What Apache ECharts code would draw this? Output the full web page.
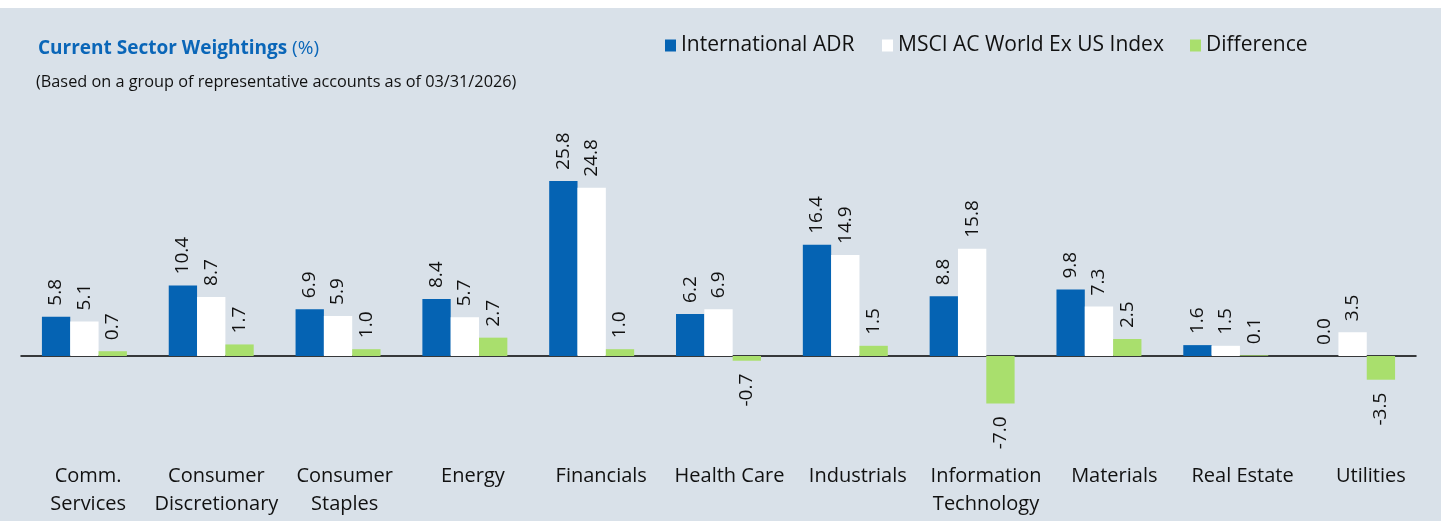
<!DOCTYPE html>
<html>
<head>
<meta charset="utf-8">
<script src="https://cdn.jsdelivr.net/npm/echarts@6/dist/echarts.min.js"></script>
<style>
  html, body { margin: 0; padding: 0; background: #ffffff; }
  #chart {
    position: absolute;
    left: 0;
    top: 8px;
    width: 1441px;
    height: 513px;
    background: #d9e1e9;
  }
</style>
</head>
<body>
<div id="chart"></div>
<script>
const categories = [
  'Comm.\nServices', 'Consumer\nDiscretionary', 'Consumer\nStaples', 'Energy',
  'Financials', 'Health Care', 'Industrials', 'Information\nTechnology',
  'Materials', 'Real Estate', 'Utilities'
]
const adrValues = [5.8, 10.4, 6.9, 8.4, 25.8, 6.2, 16.4, 8.8, 9.8, 1.6, 0.0]
const msciValues = [5.1, 8.7, 5.9, 5.7, 24.8, 6.9, 14.9, 15.8, 7.3, 1.5, 3.5]
const diffValues = [0.7, 1.7, 1.0, 2.7, 1.0, -0.7, 1.5, -7.0, 2.5, 0.1, -3.5]
const seriesNames = ['International ADR', 'MSCI AC World Ex US Index', 'Difference']

const FONT = '"Open Sans", "Noto Sans", sans-serif'

const chart = echarts.init(document.getElementById('chart'))

function withLabelSide(values) {
  return values.map((v) => {
    if (v < 0) {
      return {
        value: v,
        label: { position: 'bottom', align: 'right', distance: 13 }
      }
    }
    return v
  })
}

const barLabel = {
  show: true,
  position: 'top',
  rotate: 90,
  align: 'left',
  verticalAlign: 'middle',
  distance: 11,
  color: '#111',
  fontFamily: FONT,
  fontSize: 19,
  formatter: (p) => Number(p.value).toFixed(1)
}

function makeSeries(name, values, color) {
  return {
    name,
    type: 'bar',
    data: withLabelSide(values),
    barGap: '0%',
    barCategoryGap: '33%',
    itemStyle: { color },
    label: barLabel,
    emphasis: { disabled: true }
  }
}

// one legend per entry so each sits where the reference puts it
const legendLeft = [660, 877, 1185]
const legends = seriesNames.map((name, i) => ({
  left: legendLeft[i],
  top: 22,
  icon: 'rect',
  itemWidth: 11,
  itemHeight: 12,
  itemGap: 5,
  selectedMode: false,
  textStyle: { fontFamily: FONT, fontSize: 21, color: '#111' },
  data: [name]
}))

chart.setOption({
  animation: false,
  backgroundColor: 'transparent',
  title: [
    {
      left: 33,
      top: 26,
      text: '{b|Current Sector Weightings} {n|(%)}',
      textStyle: {
        rich: {
          b: { fontFamily: FONT, fontSize: 19, fontWeight: 'bold', color: '#0a66b8' },
          n: { fontFamily: FONT, fontSize: 19, fontWeight: 'normal', color: '#0a66b8' }
        }
      }
    },
    {
      left: 31,
      top: 61,
      text: '(Based on a group of representative accounts as of 03/31/2026)',
      textStyle: { fontFamily: FONT, fontSize: 16.3, fontWeight: 'normal', color: '#111' }
    }
  ],
  legend: legends,
  // grid 0 holds the bars, grid 1 only carries the category labels,
  // which sit on a slightly wider spacing in the reference
  grid: [
    {
      left: 21,
      right: 25,
      top: 144.5,
      height: 271.3,
      outerBoundsMode: 'none',
      containLabel: false
    },
    {
      left: 24,
      right: 6,
      top: 144.5,
      height: 271.3,
      outerBoundsMode: 'none',
      containLabel: false
    }
  ],
  xAxis: [
    {
      type: 'category',
      gridIndex: 0,
      data: categories,
      axisLine: { onZero: true, lineStyle: { color: '#000', width: 1.5 } },
      axisTick: { show: false },
      axisLabel: { show: false }
    },
    {
      type: 'category',
      gridIndex: 1,
      data: categories,
      axisLine: { show: false },
      axisTick: { show: false },
      axisLabel: {
        interval: 0,
        margin: 38,
        color: '#111',
        fontFamily: FONT,
        fontSize: 20,
        lineHeight: 28
      }
    }
  ],
  yAxis: [
    {
      type: 'value',
      gridIndex: 0,
      min: -10,
      max: 30,
      show: false,
      splitLine: { show: false }
    },
    {
      type: 'value',
      gridIndex: 1,
      min: 0,
      max: 1,
      show: false,
      splitLine: { show: false }
    }
  ],
  series: [
    makeSeries(seriesNames[0], adrValues, '#0563b3'),
    makeSeries(seriesNames[1], msciValues, '#ffffff'),
    makeSeries(seriesNames[2], diffValues, '#a9df6d')
  ]
})
</script>
</body>
</html>
